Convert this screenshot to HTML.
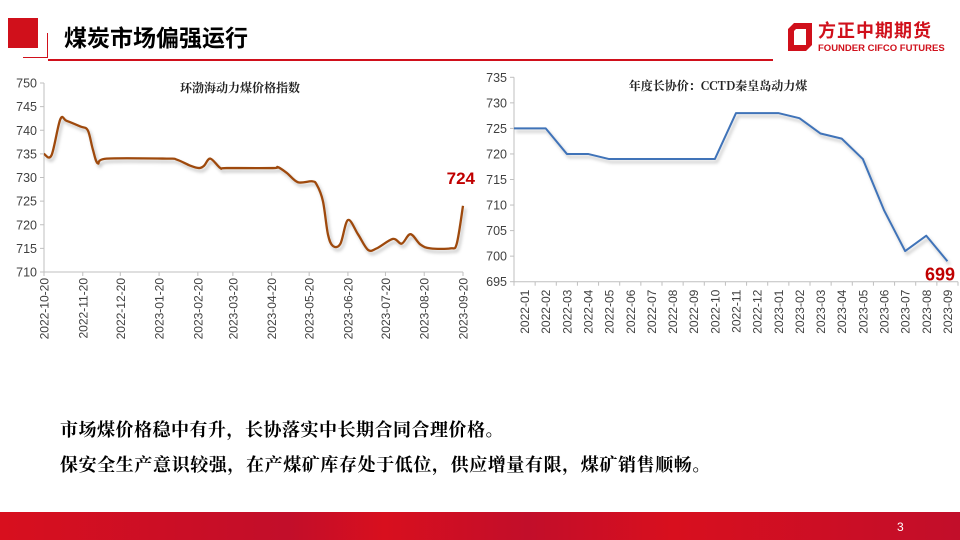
<!DOCTYPE html>
<html><head><meta charset="utf-8">
<style>
body{margin:0;width:960px;height:540px;overflow:hidden;background:#fff;position:relative;font-family:"Liberation Sans","Noto Sans CJK SC",sans-serif}
.abs{position:absolute}
</style></head><body>
<div class="abs" style="left:8px;top:18px;width:30px;height:30px;background:#d0101b"></div>
<div class="abs" style="left:23px;top:33px;width:24px;height:24px;border-right:1.5px solid #d0101b;border-bottom:1.5px solid #d0101b"></div>
<div class="abs" style="left:64px;top:21px;font-size:23px;font-weight:bold;color:#000;font-family:'Noto Sans CJK SC',sans-serif;line-height:30px">煤炭市场偏强运行</div>
<div class="abs" style="left:48px;top:59px;width:725px;height:1.5px;background:#d0101b"></div>
<div class="abs" style="left:782px;top:18px;width:165px;height:38px">
<svg width="30" height="32" style="position:absolute;left:2px;top:3px"><path d="M4 8 L10 2 L28 2 L28 24 L22 30 L4 30 Z M10 10 L10 24 L22 24 L22 8 L12 8 Z" fill="#d0101b" fill-rule="evenodd"/></svg>
<div class="abs" style="left:36px;top:0px;font-size:18px;font-weight:bold;color:#d0101b;font-family:'Noto Sans CJK SC',sans-serif;line-height:24px;letter-spacing:1px">方正中期期货</div>
<div class="abs" style="left:36px;top:25px;font-size:9.5px;font-weight:bold;color:#d0101b;white-space:nowrap">FOUNDER CIFCO FUTURES</div>
</div>

<svg class="abs" style="left:0;top:0" width="960" height="400" id="charts">
<defs><filter id="sh" x="-5%" y="-5%" width="110%" height="120%"><feDropShadow dx="2" dy="3" stdDeviation="1.5" flood-color="#000" flood-opacity="0.25"/></filter></defs>
<g id="left"></g>
<g id="right"></g>
</svg>

<div class="abs" style="left:60px;top:416px;font-size:18px;letter-spacing:0.5px;font-weight:bold;font-family:'Noto Serif CJK SC',serif;color:#000;line-height:26px;white-space:nowrap">市场煤价格稳中有升，长协落实中长期合同合理价格。</div>
<div class="abs" style="left:60px;top:451px;font-size:18px;letter-spacing:0.6px;font-weight:bold;font-family:'Noto Serif CJK SC',serif;color:#000;line-height:26px;white-space:nowrap">保安全生产意识较强，在产煤矿库存处于低位，供应增量有限，煤矿销售顺畅。</div>

<div class="abs" style="left:0;top:512px;width:960px;height:28px;background:linear-gradient(90deg,#d80f1e 0%,#c20e2a 30%,#d80f1e 40%,#c20e2a 55%,#d80f1e 70%,#c20e2a 100%)"></div>
<div class="abs" style="left:897px;top:520px;font-size:12px;color:#fff">3</div>

<script>
// Left chart data: days since 2022-10-20, value
const leftDays=[0,6,13,18,29,35,39,43,50,98,106,117,124,128,133,141,146,183,187,194,203,214,218,223,227,231,237,243,251,259,266,279,286,293,301,309,325,330,335];
const leftVals=[735,734.7,742.3,742,740.8,740,736,733,734,734,733.8,732.5,732,732.5,734,732,732,732,732.2,731,729,729.2,728.5,725,718,715.5,716,721,718,714.7,715,717,716,718,715.8,715,715,716,724];
const leftTickLabels=["2022-10-20","2022-11-20","2022-12-20","2023-01-20","2023-02-20","2023-03-20","2023-04-20","2023-05-20","2023-06-20","2023-07-20","2023-08-20","2023-09-20"];
const leftTickDays=[0,31,61,92,123,151,182,212,243,273,304,335];
const leftYTicks=[710,715,720,725,730,735,740,745,750];
// Right chart data
const rightCats=["2022-01","2022-02","2022-03","2022-04","2022-05","2022-06","2022-07","2022-08","2022-09","2022-10","2022-11","2022-12","2023-01","2023-02","2023-03","2023-04","2023-05","2023-06","2023-07","2023-08","2023-09"];
const rightVals=[725,725,720,720,719,719,719,719,719,719,728,728,728,727,724,723,719,709,701,704,699];
const rightYTicks=[695,700,705,710,715,720,725,730,735];

const NS="http://www.w3.org/2000/svg";
function mk(p,tag,at){const e=document.createElementNS(NS,tag);for(const k in at)e.setAttribute(k,at[k]);p.appendChild(e);return e;}
const AX="#bfbfbf",TX="#404040";

// LEFT
(function(){
const g=document.getElementById('left');
const x0=44,x1=463,y0=272,y1=83;
const xs=d=>x0+(x1-x0)*d/335;
const ys=v=>y0-(v-710)/(750-710)*(y0-y1);
let a=mk(g,'line',{x1:x0,y1:y1,x2:x0,y2:y0,stroke:AX});

a=mk(g,'line',{x1:x0,y1:y0,x2:x1,y2:y0,stroke:AX});

leftYTicks.forEach(v=>{
 mk(g,'line',{x1:x0-4,x2:x0,y1:ys(v),y2:ys(v),stroke:AX});
 const t=mk(g,'text',{x:x0-7,y:ys(v)+4.5,'text-anchor':'end','font-size':12.5,fill:TX});t.textContent=v;
 
});
leftTickDays.forEach((d,i)=>{
 const x=xs(d);mk(g,'line',{x1:x,x2:x,y1:y0,y2:y0+4,stroke:AX});
 const t=mk(g,'text',{x:0,y:0,transform:`translate(${x+4.5},${y0+6}) rotate(-90)`,'text-anchor':'end','font-size':12,fill:TX});t.textContent=leftTickLabels[i];
 
});
const P=leftDays.map((d,i)=>[xs(d),ys(leftVals[i])]);
let dstr=`M${P[0][0]},${P[0][1]}`;
for(let i=0;i<P.length-1;i++){const p0=P[Math.max(0,i-1)],p1=P[i],p2=P[i+1],p3=P[Math.min(P.length-1,i+2)];
 const c1=[p1[0]+(p2[0]-p0[0])/6,p1[1]+(p2[1]-p0[1])/6],c2=[p2[0]-(p3[0]-p1[0])/6,p2[1]-(p3[1]-p1[1])/6];
 dstr+=` C${c1[0]},${c1[1]} ${c2[0]},${c2[1]} ${p2[0]},${p2[1]}`;}
const ln=mk(g,'path',{d:dstr,fill:'none',stroke:'#9e4a0c','stroke-width':2.3,filter:'url(#sh)'});

const tt=mk(g,'text',{x:240,y:92,'text-anchor':'middle','font-size':12,'font-weight':'bold',fill:'#222','font-family':"'Noto Serif CJK SC',serif"});tt.textContent='环渤海动力煤价格指数';

const last=leftVals[leftVals.length-1];
const lb=mk(g,'text',{x:x1+12,y:ys(last)-22,'text-anchor':'end','font-size':17,'font-weight':'bold',fill:'#c00000'});lb.textContent=last;

})();

// RIGHT
(function(){
const g=document.getElementById('right');
const x0=514,x1=958,y0=281.7,y1=77.3;
const w=(x1-x0)/rightCats.length;
const xs=i=>x0+w*(i+0.5);
const ys=v=>y0-(v-695)/(735-695)*(y0-y1);
let a=mk(g,'line',{x1:x0,y1:y1,x2:x0,y2:y0,stroke:AX});

a=mk(g,'line',{x1:x0,y1:y0,x2:x1,y2:y0,stroke:AX});

rightYTicks.forEach(v=>{
 mk(g,'line',{x1:x0-4,x2:x0,y1:ys(v),y2:ys(v),stroke:AX});
 const t=mk(g,'text',{x:x0-7,y:ys(v)+4.5,'text-anchor':'end','font-size':12.5,fill:TX});t.textContent=v;
 
});
for(let i=0;i<=rightCats.length;i++){const x=x0+w*i;mk(g,'line',{x1:x,x2:x,y1:y0,y2:y0+4,stroke:AX});}
rightCats.forEach((c,i)=>{
 const t=mk(g,'text',{x:0,y:0,transform:`translate(${xs(i)+4.5},${y0+8}) rotate(-90)`,'text-anchor':'end','font-size':12,fill:TX});t.textContent=c;
 
});
let dstr=`M${x0},${ys(rightVals[0])}`+rightVals.map((v,i)=>` L${xs(i)},${ys(v)}`).join('');
const ln=mk(g,'path',{d:dstr,fill:'none',stroke:'#3f73b8','stroke-width':2,'stroke-linejoin':'round',filter:'url(#sh)'});

const tt=mk(g,'text',{x:718,y:90,'text-anchor':'middle','font-size':12,'font-weight':'bold',fill:'#222','font-family':"'Noto Serif CJK SC',serif"});tt.textContent='年度长协价：CCTD秦皇岛动力煤';

const last=rightVals[rightVals.length-1];
const lb=mk(g,'text',{x:955,y:ys(last)+19,'text-anchor':'end','font-size':18,'font-weight':'bold',fill:'#c00000'});lb.textContent=last;

})();
</script>
</body></html>
